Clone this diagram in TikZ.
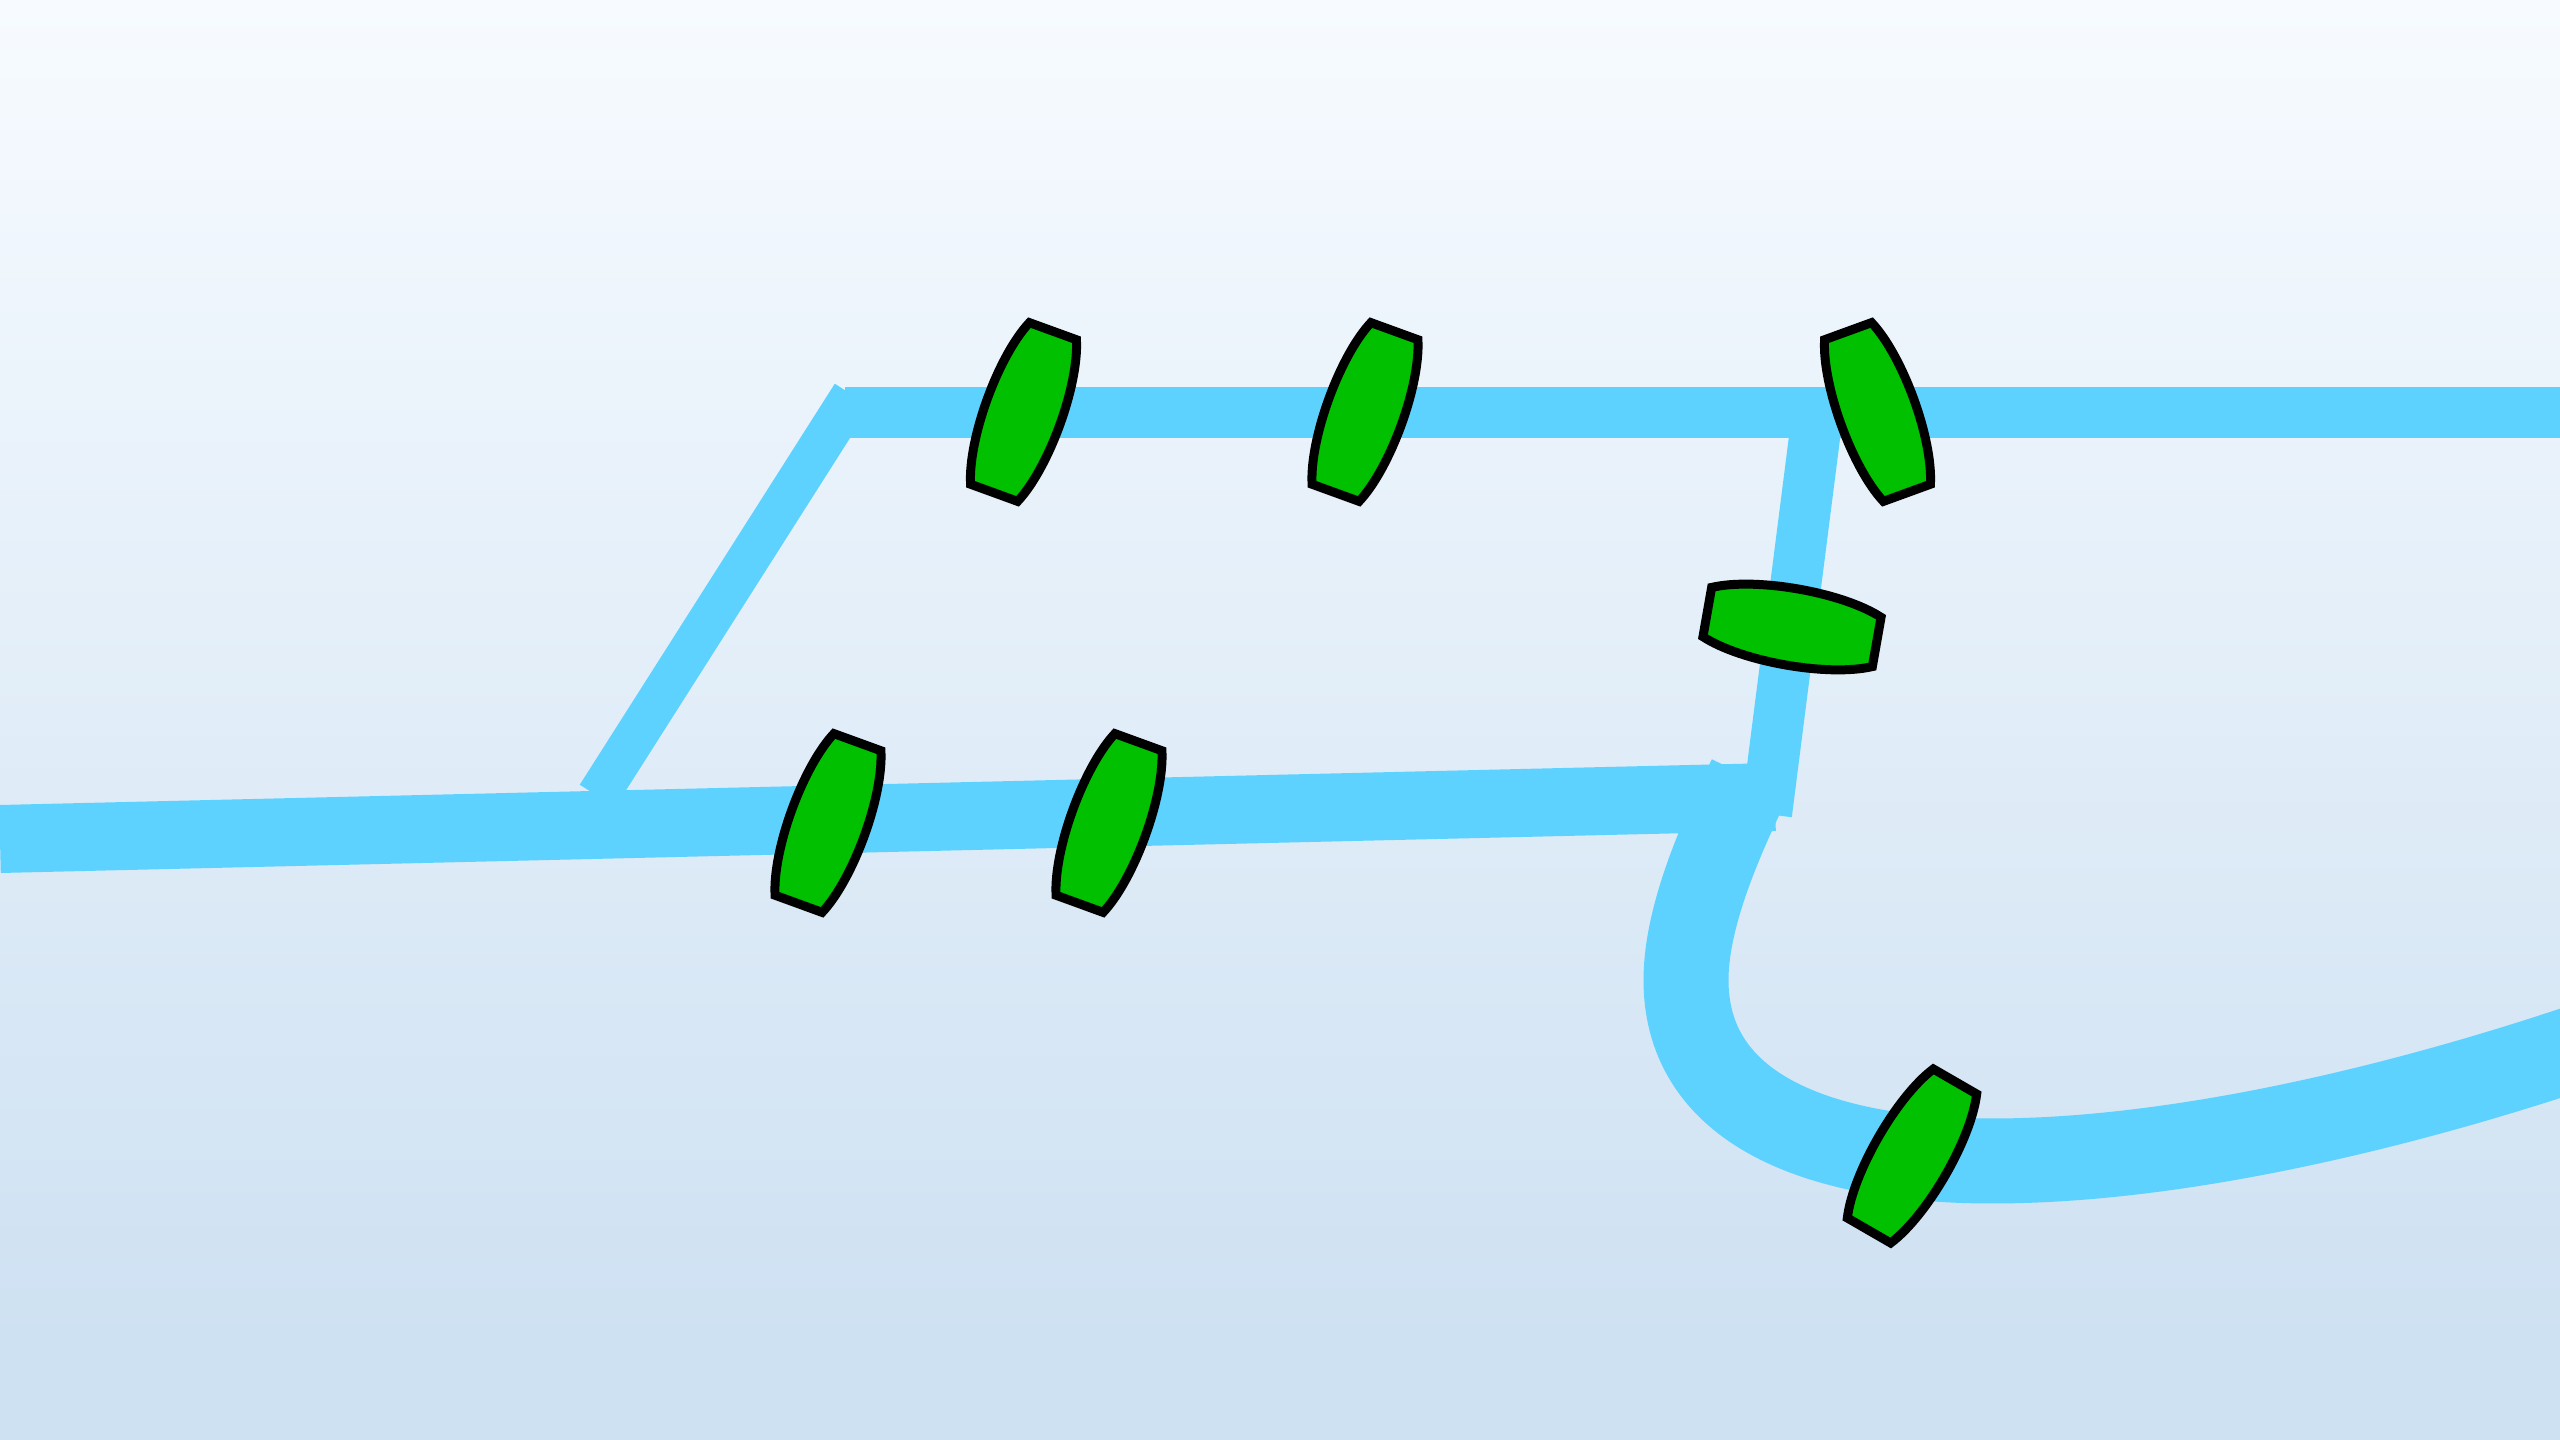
\documentclass[tikz,border=0pt]{standalone}
\definecolor{railblue}{RGB}{93,210,255}
\definecolor{lensgreen}{RGB}{0,192,0}
\definecolor{skytop}{RGB}{247,251,255}
\definecolor{skybottom}{RGB}{206,225,242}
\tikzset{
	rail/.style={draw=railblue,line cap=butt,line join=miter},
	lens/.pic={
		\draw [fill=lensgreen,draw=black,line width=0.9mm,line join=miter,miter limit=10]
			(-25,-86) -- (25,-86) .. controls (43,-44) and (43,44) .. (25,86)
			-- (-25,86) .. controls (-43,44) and (-43,-44) .. (-25,-86) -- cycle;
	}
}
\begin{document}
\begin{tikzpicture}[x=0.1mm,y=-0.1mm]
		\useasboundingbox (0,0) rectangle (2560,1440);
		\clip (0,0) rectangle (2560,1440);
		\shade [top color=skytop,bottom color=skybottom] (0,0) rectangle (2560,1340);
		\fill [skybottom] (0,1339) rectangle (2560,1440);
		% Place rail ends
		\coordinate (mainl) at (0,839);
		\coordinate (mainr) at (1775,797);
		\coordinate (upperl) at (845,412.5);
		\coordinate (upperr) at (2560,412.5);
		\coordinate (diagt) at (852.5,395);
		\coordinate (diagb) at (597.5,796);
		\coordinate (dropt) at (1818,410);
		\coordinate (dropb) at (1766.5,814);
		\coordinate (bendt) at (1750,778);
		\coordinate (bendl) at (1686,980);
		\coordinate (bendb) at (1992,1161);
		\coordinate (bendr) at (2620,1033);
		% Rails
		\draw [rail,line width=6.8mm] (mainl) -- (mainr);
		\draw [rail,line width=5.1mm] (upperl) -- (upperr);
		\draw [rail,line width=4.2mm] (diagt) -- (diagb);
		\draw [rail,line width=5.1mm] (dropt) -- (dropb);
		\draw [rail,line width=8.5mm] (bendt) .. controls (1712,855) and (1686,925) .. (bendl)
			.. controls (1686,1115) and (1830,1161) .. (bendb)
			.. controls (2190,1161) and (2430,1100) .. (bendr);
		% Place lenses
		\pic [rotate=-20] (lens1) at (1023.5,412) {lens};
		\pic [rotate=-20] (lens2) at (1365,412) {lens};
		\pic [rotate=20] (lens3) at (1877.5,412) {lens};
		\pic [rotate=80] (lens4) at (1792,627) {lens};
		\pic [rotate=-20] (lens5) at (828,823) {lens};
		\pic [rotate=-20] (lens6) at (1109,823) {lens};
		\pic [rotate=-30] (lens7) at (1912,1156) {lens};
	\end{tikzpicture}
\end{document}
